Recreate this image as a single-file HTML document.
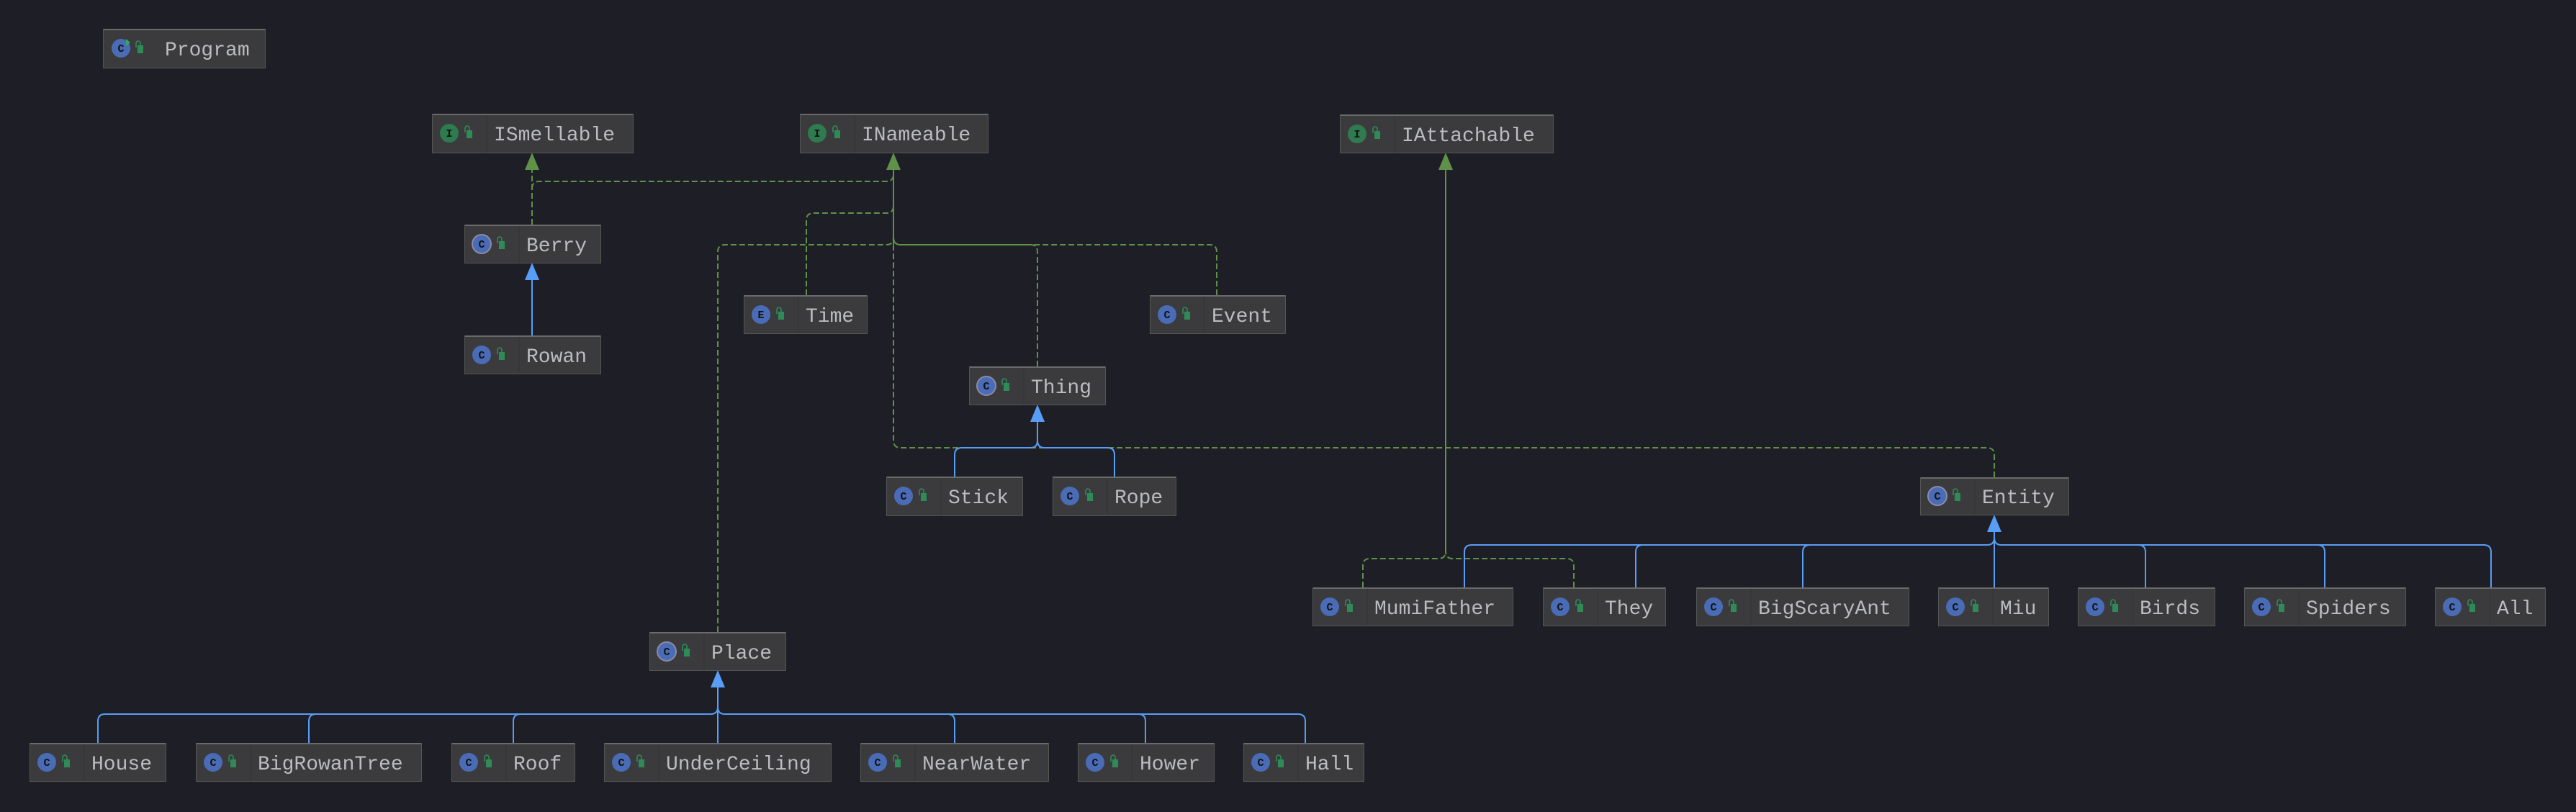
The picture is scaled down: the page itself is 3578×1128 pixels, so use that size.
<!DOCTYPE html>
<html><head><meta charset="utf-8"><style>
html,body{margin:0;padding:0;background:#1e1f26;}
svg{display:block;}
text{font-family:"Liberation Mono",monospace;}
</style></head><body>
<svg width="3578" height="1128" viewBox="0 0 3578 1128" xmlns="http://www.w3.org/2000/svg">
<rect width="3578" height="1128" fill="#1e1f26"/>
<defs>
<g id="lock"><path d="M0,4 V-2 A3,3 0 0 1 6,-2 V2" fill="none" stroke="#2e8b57" stroke-width="1.6"/><rect x="2" y="1" width="8" height="11" fill="#2e8b57"/></g>
</defs>

<!-- green dashed -->
<g fill="none" stroke="#5f9148" stroke-width="2" stroke-dasharray="8 4">
<path d="M739,312 V236"/>
<path d="M739,262 Q739,252 749,252 H1231 Q1241,252 1241,242"/>
<path d="M1120,410 V306 Q1120,296 1130,296 H1231 Q1241,296 1241,286"/>
<path d="M997,878 V350 Q997,340 1007,340 H1231 Q1241,340 1241,330"/>
<path d="M1441,509 V350 Q1441,340 1431,340 H1251 Q1241,340 1241,330"/>
<path d="M1690,410 V350 Q1690,340 1680,340 H1251 Q1241,340 1241,330"/>
<path d="M2770,663 V632 Q2770,622 2760,622 H1251 Q1241,622 1241,612 V340"/>
<path d="M1893,816 V786 Q1893,776 1903,776 H1998 Q2008,776 2008,766"/>
<path d="M2186,816 V786 Q2186,776 2176,776 H2018 Q2008,776 2008,766"/>
</g>
<g fill="none" stroke="#5f9148" stroke-width="2">
<path d="M1241,236 V340"/>
<path d="M2008,236 V766"/>
</g>
<g fill="#5f9148">
<path d="M739,212 L729,236 L749,236 Z"/>
<path d="M1241,212 L1231,236 L1251,236 Z"/>
<path d="M2008,212 L1998,236 L2018,236 Z"/>
</g>

<!-- blue -->
<g fill="none" stroke="#589df6" stroke-width="2">
<path d="M739,466 V389"/>
<path d="M1326,662 V632 Q1326,622 1336,622 H1431 Q1441,622 1441,612 V586"/>
<path d="M1548,662 V632 Q1548,622 1538,622 H1451 Q1441,622 1441,612"/>
<path d="M997,1032 V955"/>
<path d="M136,1032 V1002 Q136,992 146,992 H987 Q997,992 997,982"/>
<path d="M429,1032 V1002 Q429,992 439,992 H987"/>
<path d="M713,1032 V1002 Q713,992 723,992 H987"/>
<path d="M1326,1032 V1002 Q1326,992 1316,992 H1007 Q997,992 997,982"/>
<path d="M1591,1032 V1002 Q1591,992 1581,992 H1007"/>
<path d="M1813,1032 V1002 Q1813,992 1803,992 H1007"/>
<path d="M2770,816 V739"/>
<path d="M2034,816 V767 Q2034,757 2044,757 H2760 Q2770,757 2770,747"/>
<path d="M2272,816 V767 Q2272,757 2282,757 H2760"/>
<path d="M2504,816 V767 Q2504,757 2514,757 H2760"/>
<path d="M2980,816 V767 Q2980,757 2970,757 H2780 Q2770,757 2770,747"/>
<path d="M3229,816 V767 Q3229,757 3219,757 H2780"/>
<path d="M3460,816 V767 Q3460,757 3450,757 H2780"/>
</g>
<g fill="#589df6">
<path d="M739,365 L729,389 L749,389 Z"/>
<path d="M1441,562 L1431,586 L1451,586 Z"/>
<path d="M997,931 L987,955 L1007,955 Z"/>
<path d="M2770,715 L2760,739 L2780,739 Z"/>
</g>

<!-- nodes -->
<g id="nodes">
<!-- helper pattern repeated: rect, top line, divider, icon, lock, text -->
<g transform="translate(143,40)"><rect x="0.5" y="0.5" width="225" height="54" fill="#3b3b3d" stroke="#555"/><line x1="1" y1="1" x2="225" y2="1" stroke="#6a6a6a" stroke-width="2"/><circle cx="25" cy="27" r="13" fill="#4a6bb5"/><path d="M32,14 l6,5 -6,5z" fill="#2eab5c"/><text x="25" y="32" font-size="15" font-weight="bold" text-anchor="middle" fill="#111">C</text><use href="#lock" x="46" y="22"/><text x="86" y="37" font-size="28" fill="#bbbcbf">Program</text></g>

<g transform="translate(600,158)"><rect x="0.5" y="0.5" width="279" height="54" fill="#3b3b3d" stroke="#555"/><line x1="1" y1="1" x2="279" y2="1" stroke="#6a6a6a" stroke-width="2"/><line x1="76" y1="2" x2="76" y2="54" stroke="#333"/><circle cx="24" cy="27" r="13" fill="#2f7a4f"/><text x="24" y="32" font-size="15" font-weight="bold" text-anchor="middle" fill="#111">I</text><use href="#lock" x="46" y="22"/><text x="86" y="37" font-size="28" fill="#bbbcbf">ISmellable</text></g>

<g transform="translate(1111,158)"><rect x="0.5" y="0.5" width="261" height="54" fill="#3b3b3d" stroke="#555"/><line x1="1" y1="1" x2="261" y2="1" stroke="#6a6a6a" stroke-width="2"/><line x1="76" y1="2" x2="76" y2="54" stroke="#333"/><circle cx="24" cy="27" r="13" fill="#2f7a4f"/><text x="24" y="32" font-size="15" font-weight="bold" text-anchor="middle" fill="#111">I</text><use href="#lock" x="46" y="22"/><text x="86" y="37" font-size="28" fill="#bbbcbf">INameable</text></g>

<g transform="translate(1861,159)"><rect x="0.5" y="0.5" width="296" height="53" fill="#3b3b3d" stroke="#555"/><line x1="1" y1="1" x2="296" y2="1" stroke="#6a6a6a" stroke-width="2"/><line x1="76" y1="2" x2="76" y2="53" stroke="#333"/><circle cx="24" cy="27" r="13" fill="#2f7a4f"/><text x="24" y="32" font-size="15" font-weight="bold" text-anchor="middle" fill="#111">I</text><use href="#lock" x="46" y="22"/><text x="86" y="37" font-size="28" fill="#bbbcbf">IAttachable</text></g>

<g transform="translate(645,312)"><rect x="0.5" y="0.5" width="189" height="53" fill="#3b3b3d" stroke="#555"/><line x1="1" y1="1" x2="189" y2="1" stroke="#6a6a6a" stroke-width="2"/><line x1="76" y1="2" x2="76" y2="53" stroke="#333"/><circle cx="24" cy="27" r="13" fill="#4a6bb5" stroke="#8a8aa8" stroke-width="2"/><text x="24" y="32" font-size="15" font-weight="bold" text-anchor="middle" fill="#111">C</text><use href="#lock" x="46" y="22"/><text x="86" y="37" font-size="28" fill="#bbbcbf">Berry</text></g>

<g transform="translate(645,466)"><rect x="0.5" y="0.5" width="189" height="53" fill="#3b3b3d" stroke="#555"/><line x1="1" y1="1" x2="189" y2="1" stroke="#6a6a6a" stroke-width="2"/><line x1="76" y1="2" x2="76" y2="53" stroke="#333"/><circle cx="24" cy="27" r="13" fill="#4a6bb5"/><text x="24" y="32" font-size="15" font-weight="bold" text-anchor="middle" fill="#111">C</text><use href="#lock" x="46" y="22"/><text x="86" y="37" font-size="28" fill="#bbbcbf">Rowan</text></g>

<g transform="translate(1033,410)"><rect x="0.5" y="0.5" width="171" height="53" fill="#3b3b3d" stroke="#555"/><line x1="1" y1="1" x2="171" y2="1" stroke="#6a6a6a" stroke-width="2"/><line x1="76" y1="2" x2="76" y2="53" stroke="#333"/><circle cx="24" cy="27" r="13" fill="#4a6bb5"/><text x="24" y="32" font-size="15" font-weight="bold" text-anchor="middle" fill="#111">E</text><use href="#lock" x="46" y="22"/><text x="86" y="37" font-size="28" fill="#bbbcbf">Time</text></g>

<g transform="translate(1597,410)"><rect x="0.5" y="0.5" width="188" height="53" fill="#3b3b3d" stroke="#555"/><line x1="1" y1="1" x2="188" y2="1" stroke="#6a6a6a" stroke-width="2"/><line x1="76" y1="2" x2="76" y2="53" stroke="#333"/><circle cx="24" cy="27" r="13" fill="#4a6bb5"/><text x="24" y="32" font-size="15" font-weight="bold" text-anchor="middle" fill="#111">C</text><use href="#lock" x="46" y="22"/><text x="86" y="37" font-size="28" fill="#bbbcbf">Event</text></g>

<g transform="translate(1346,509)"><rect x="0.5" y="0.5" width="189" height="53" fill="#3b3b3d" stroke="#555"/><line x1="1" y1="1" x2="189" y2="1" stroke="#6a6a6a" stroke-width="2"/><line x1="76" y1="2" x2="76" y2="53" stroke="#333"/><circle cx="24" cy="27" r="13" fill="#4a6bb5" stroke="#8a8aa8" stroke-width="2"/><text x="24" y="32" font-size="15" font-weight="bold" text-anchor="middle" fill="#111">C</text><use href="#lock" x="46" y="22"/><text x="86" y="37" font-size="28" fill="#bbbcbf">Thing</text></g>

<g transform="translate(1231,662)"><rect x="0.5" y="0.5" width="189" height="54" fill="#3b3b3d" stroke="#555"/><line x1="1" y1="1" x2="189" y2="1" stroke="#6a6a6a" stroke-width="2"/><line x1="76" y1="2" x2="76" y2="54" stroke="#333"/><circle cx="24" cy="27" r="13" fill="#4a6bb5"/><text x="24" y="32" font-size="15" font-weight="bold" text-anchor="middle" fill="#111">C</text><use href="#lock" x="46" y="22"/><text x="86" y="37" font-size="28" fill="#bbbcbf">Stick</text></g>

<g transform="translate(1462,662)"><rect x="0.5" y="0.5" width="171" height="54" fill="#3b3b3d" stroke="#555"/><line x1="1" y1="1" x2="171" y2="1" stroke="#6a6a6a" stroke-width="2"/><line x1="76" y1="2" x2="76" y2="54" stroke="#333"/><circle cx="24" cy="27" r="13" fill="#4a6bb5"/><text x="24" y="32" font-size="15" font-weight="bold" text-anchor="middle" fill="#111">C</text><use href="#lock" x="46" y="22"/><text x="86" y="37" font-size="28" fill="#bbbcbf">Rope</text></g>

<g transform="translate(2667,663)"><rect x="0.5" y="0.5" width="206" height="52" fill="#3b3b3d" stroke="#555"/><line x1="1" y1="1" x2="206" y2="1" stroke="#6a6a6a" stroke-width="2"/><line x1="76" y1="2" x2="76" y2="52" stroke="#333"/><circle cx="24" cy="26" r="13" fill="#4a6bb5" stroke="#8a8aa8" stroke-width="2"/><text x="24" y="31" font-size="15" font-weight="bold" text-anchor="middle" fill="#111">C</text><use href="#lock" x="46" y="21"/><text x="86" y="36" font-size="28" fill="#bbbcbf">Entity</text></g>

<g transform="translate(902,878)"><rect x="0.5" y="0.5" width="189" height="53" fill="#3b3b3d" stroke="#555"/><line x1="1" y1="1" x2="189" y2="1" stroke="#6a6a6a" stroke-width="2"/><line x1="76" y1="2" x2="76" y2="53" stroke="#333"/><circle cx="24" cy="27" r="13" fill="#4a6bb5" stroke="#8a8aa8" stroke-width="2"/><text x="24" y="32" font-size="15" font-weight="bold" text-anchor="middle" fill="#111">C</text><use href="#lock" x="46" y="22"/><text x="86" y="37" font-size="28" fill="#bbbcbf">Place</text></g>

<!-- Entity children -->
<g transform="translate(1823,816)"><rect x="0.5" y="0.5" width="278" height="53" fill="#3b3b3d" stroke="#555"/><line x1="1" y1="1" x2="278" y2="1" stroke="#6a6a6a" stroke-width="2"/><line x1="76" y1="2" x2="76" y2="53" stroke="#333"/><circle cx="24" cy="27" r="13" fill="#4a6bb5"/><text x="24" y="32" font-size="15" font-weight="bold" text-anchor="middle" fill="#111">C</text><use href="#lock" x="46" y="22"/><text x="86" y="37" font-size="28" fill="#bbbcbf">MumiFather</text></g>
<g transform="translate(2143,816)"><rect x="0.5" y="0.5" width="170" height="53" fill="#3b3b3d" stroke="#555"/><line x1="1" y1="1" x2="170" y2="1" stroke="#6a6a6a" stroke-width="2"/><line x1="76" y1="2" x2="76" y2="53" stroke="#333"/><circle cx="24" cy="27" r="13" fill="#4a6bb5"/><text x="24" y="32" font-size="15" font-weight="bold" text-anchor="middle" fill="#111">C</text><use href="#lock" x="46" y="22"/><text x="86" y="37" font-size="28" fill="#bbbcbf">They</text></g>
<g transform="translate(2356,816)"><rect x="0.5" y="0.5" width="295" height="53" fill="#3b3b3d" stroke="#555"/><line x1="1" y1="1" x2="295" y2="1" stroke="#6a6a6a" stroke-width="2"/><line x1="76" y1="2" x2="76" y2="53" stroke="#333"/><circle cx="24" cy="27" r="13" fill="#4a6bb5"/><text x="24" y="32" font-size="15" font-weight="bold" text-anchor="middle" fill="#111">C</text><use href="#lock" x="46" y="22"/><text x="86" y="37" font-size="28" fill="#bbbcbf">BigScaryAnt</text></g>
<g transform="translate(2692,816)"><rect x="0.5" y="0.5" width="153" height="53" fill="#3b3b3d" stroke="#555"/><line x1="1" y1="1" x2="153" y2="1" stroke="#6a6a6a" stroke-width="2"/><line x1="76" y1="2" x2="76" y2="53" stroke="#333"/><circle cx="24" cy="27" r="13" fill="#4a6bb5"/><text x="24" y="32" font-size="15" font-weight="bold" text-anchor="middle" fill="#111">C</text><use href="#lock" x="46" y="22"/><text x="86" y="37" font-size="28" fill="#bbbcbf">Miu</text></g>
<g transform="translate(2886,816)"><rect x="0.5" y="0.5" width="190" height="53" fill="#3b3b3d" stroke="#555"/><line x1="1" y1="1" x2="190" y2="1" stroke="#6a6a6a" stroke-width="2"/><line x1="76" y1="2" x2="76" y2="53" stroke="#333"/><circle cx="24" cy="27" r="13" fill="#4a6bb5"/><text x="24" y="32" font-size="15" font-weight="bold" text-anchor="middle" fill="#111">C</text><use href="#lock" x="46" y="22"/><text x="86" y="37" font-size="28" fill="#bbbcbf">Birds</text></g>
<g transform="translate(3117,816)"><rect x="0.5" y="0.5" width="224" height="53" fill="#3b3b3d" stroke="#555"/><line x1="1" y1="1" x2="224" y2="1" stroke="#6a6a6a" stroke-width="2"/><line x1="76" y1="2" x2="76" y2="53" stroke="#333"/><circle cx="24" cy="27" r="13" fill="#4a6bb5"/><text x="24" y="32" font-size="15" font-weight="bold" text-anchor="middle" fill="#111">C</text><use href="#lock" x="46" y="22"/><text x="86" y="37" font-size="28" fill="#bbbcbf">Spiders</text></g>
<g transform="translate(3382,816)"><rect x="0.5" y="0.5" width="153" height="53" fill="#3b3b3d" stroke="#555"/><line x1="1" y1="1" x2="153" y2="1" stroke="#6a6a6a" stroke-width="2"/><line x1="76" y1="2" x2="76" y2="53" stroke="#333"/><circle cx="24" cy="27" r="13" fill="#4a6bb5"/><text x="24" y="32" font-size="15" font-weight="bold" text-anchor="middle" fill="#111">C</text><use href="#lock" x="46" y="22"/><text x="86" y="37" font-size="28" fill="#bbbcbf">All</text></g>

<!-- Place children -->
<g transform="translate(41,1032)"><rect x="0.5" y="0.5" width="189" height="53" fill="#3b3b3d" stroke="#555"/><line x1="1" y1="1" x2="189" y2="1" stroke="#6a6a6a" stroke-width="2"/><line x1="76" y1="2" x2="76" y2="53" stroke="#333"/><circle cx="24" cy="27" r="13" fill="#4a6bb5"/><text x="24" y="32" font-size="15" font-weight="bold" text-anchor="middle" fill="#111">C</text><use href="#lock" x="46" y="22"/><text x="86" y="37" font-size="28" fill="#bbbcbf">House</text></g>
<g transform="translate(272,1032)"><rect x="0.5" y="0.5" width="313" height="53" fill="#3b3b3d" stroke="#555"/><line x1="1" y1="1" x2="313" y2="1" stroke="#6a6a6a" stroke-width="2"/><line x1="76" y1="2" x2="76" y2="53" stroke="#333"/><circle cx="24" cy="27" r="13" fill="#4a6bb5"/><text x="24" y="32" font-size="15" font-weight="bold" text-anchor="middle" fill="#111">C</text><use href="#lock" x="46" y="22"/><text x="86" y="37" font-size="28" fill="#bbbcbf">BigRowanTree</text></g>
<g transform="translate(627,1032)"><rect x="0.5" y="0.5" width="171" height="53" fill="#3b3b3d" stroke="#555"/><line x1="1" y1="1" x2="171" y2="1" stroke="#6a6a6a" stroke-width="2"/><line x1="76" y1="2" x2="76" y2="53" stroke="#333"/><circle cx="24" cy="27" r="13" fill="#4a6bb5"/><text x="24" y="32" font-size="15" font-weight="bold" text-anchor="middle" fill="#111">C</text><use href="#lock" x="46" y="22"/><text x="86" y="37" font-size="28" fill="#bbbcbf">Roof</text></g>
<g transform="translate(839,1032)"><rect x="0.5" y="0.5" width="315" height="53" fill="#3b3b3d" stroke="#555"/><line x1="1" y1="1" x2="315" y2="1" stroke="#6a6a6a" stroke-width="2"/><line x1="76" y1="2" x2="76" y2="53" stroke="#333"/><circle cx="24" cy="27" r="13" fill="#4a6bb5"/><text x="24" y="32" font-size="15" font-weight="bold" text-anchor="middle" fill="#111">C</text><use href="#lock" x="46" y="22"/><text x="86" y="37" font-size="28" fill="#bbbcbf">UnderCeiling</text></g>
<g transform="translate(1195,1032)"><rect x="0.5" y="0.5" width="261" height="53" fill="#3b3b3d" stroke="#555"/><line x1="1" y1="1" x2="261" y2="1" stroke="#6a6a6a" stroke-width="2"/><line x1="76" y1="2" x2="76" y2="53" stroke="#333"/><circle cx="24" cy="27" r="13" fill="#4a6bb5"/><text x="24" y="32" font-size="15" font-weight="bold" text-anchor="middle" fill="#111">C</text><use href="#lock" x="46" y="22"/><text x="86" y="37" font-size="28" fill="#bbbcbf">NearWater</text></g>
<g transform="translate(1497,1032)"><rect x="0.5" y="0.5" width="189" height="53" fill="#3b3b3d" stroke="#555"/><line x1="1" y1="1" x2="189" y2="1" stroke="#6a6a6a" stroke-width="2"/><line x1="76" y1="2" x2="76" y2="53" stroke="#333"/><circle cx="24" cy="27" r="13" fill="#4a6bb5"/><text x="24" y="32" font-size="15" font-weight="bold" text-anchor="middle" fill="#111">C</text><use href="#lock" x="46" y="22"/><text x="86" y="37" font-size="28" fill="#bbbcbf">Hower</text></g>
<g transform="translate(1727,1032)"><rect x="0.5" y="0.5" width="167" height="53" fill="#3b3b3d" stroke="#555"/><line x1="1" y1="1" x2="167" y2="1" stroke="#6a6a6a" stroke-width="2"/><line x1="76" y1="2" x2="76" y2="53" stroke="#333"/><circle cx="24" cy="27" r="13" fill="#4a6bb5"/><text x="24" y="32" font-size="15" font-weight="bold" text-anchor="middle" fill="#111">C</text><use href="#lock" x="46" y="22"/><text x="86" y="37" font-size="28" fill="#bbbcbf">Hall</text></g>
</g>
</svg>
</body></html>
